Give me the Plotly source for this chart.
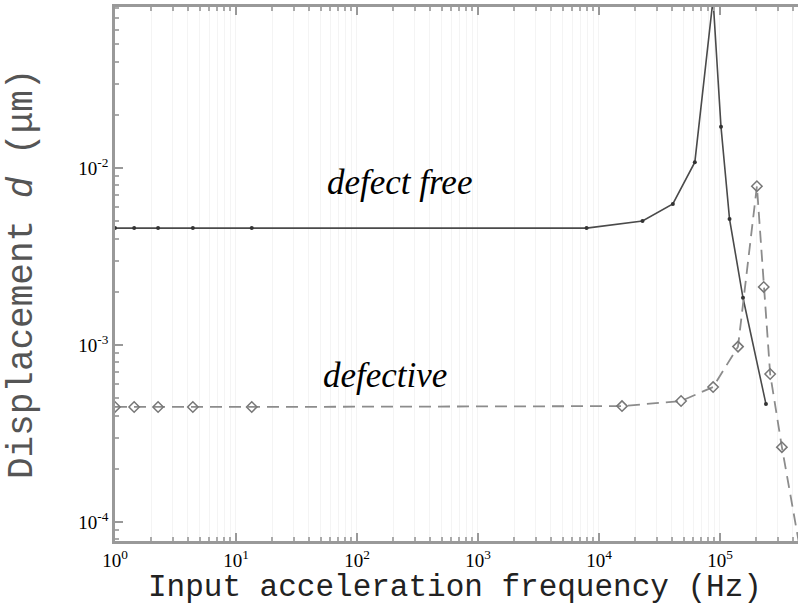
import numpy as np
import plotly.graph_objects as go

# ---- data ----
free_f = [1, 1.44, 2.27, 4.4, 13.5, 7900, 22900, 40800, 62000, 87700, 102000, 120000, 155000, 240000]
free_d = [4.58e-3, 4.58e-3, 4.58e-3, 4.58e-3, 4.58e-3, 4.58e-3, 5.02e-3, 6.27e-3, 1.08e-2, 9.0e-2,
          1.71e-2, 5.15e-3, 1.85e-3, 4.64e-4]

defc_f = [1, 1.44, 2.27, 4.4, 13.5, 15500, 47700, 87800, 141000, 202000, 230000, 260000, 325000, 458000]
defc_d = [4.47e-4, 4.47e-4, 4.47e-4, 4.47e-4, 4.47e-4, 4.52e-4, 4.83e-4, 5.79e-4, 9.8e-4, 7.9e-3,
          2.13e-3, 6.86e-4, 2.65e-4, 7.1e-5]

x_tick_vals = [1, 10, 100, 1000, 10000, 100000]
x_tick_text = ["10<sup>0</sup>", "10<sup>1</sup>", "10<sup>2</sup>", "10<sup>3</sup>", "10<sup>4</sup>", "10<sup>5</sup>"]
y_tick_vals = [1e-4, 1e-3, 1e-2]
y_tick_text = ["10<sup>-4</sup>", "10<sup>-3</sup>", "10<sup>-2</sup>"]

x_range = [0, 5.645]
y_range = [-4.107, -1.09]

fig = go.Figure()
fig.add_trace(go.Scatter(
    x=free_f, y=free_d, mode="lines+markers",
    line=dict(color="#4a4a4a", width=1.6),
    marker=dict(symbol="circle", size=4, color="#333"),
    showlegend=False))
fig.add_trace(go.Scatter(
    x=defc_f, y=defc_d, mode="lines+markers",
    line=dict(color="#8c8c8c", width=1.8, dash="12px,7px"),
    marker=dict(symbol="diamond-open", size=8, color="#777", line=dict(width=1.5)),
    showlegend=False))

axis_common = dict(
    type="log", showline=True, linecolor="#999", linewidth=2.5,
    ticks="inside", ticklen=8, tickcolor="#999", tickwidth=1.5,
    zeroline=False, showgrid=False,
    tickfont=dict(family="Liberation Serif", size=19, color="black"),
)
fig.update_xaxes(**axis_common, range=x_range, tickvals=x_tick_vals, ticktext=x_tick_text,
                 mirror="ticks",
                 minor=dict(dtick="D1", ticks="inside", ticklen=4, tickcolor="#aaa",
                            showgrid=True, gridcolor="#f4f4f4", gridwidth=1))
fig.update_yaxes(**axis_common, range=y_range, tickvals=y_tick_vals, ticktext=y_tick_text,
                 mirror=False,
                 minor=dict(dtick="D1", ticks="inside", ticklen=4, tickcolor="#aaa"))

fig.add_annotation(text="<i>defect free</i>", x=0.417, y=0.671, xref="paper", yref="paper",
                   showarrow=False, xanchor="center", yanchor="middle",
                   font=dict(family="Liberation Serif", size=35, color="black"))
fig.add_annotation(text="<i>defective</i>", x=0.395, y=0.309, xref="paper", yref="paper",
                   showarrow=False, xanchor="center", yanchor="middle",
                   font=dict(family="Liberation Serif", size=35, color="black"))
fig.add_annotation(text="Input acceleration frequency (Hz)", x=0.498, y=-0.0875, xref="paper", yref="paper",
                   showarrow=False, xanchor="center", yanchor="middle",
                   font=dict(family="Liberation Mono", size=31, color="#222"))
fig.add_annotation(text="Displacement <i>d</i> (μm)", x=-0.136, y=0.5, xref="paper", yref="paper",
                   showarrow=False, textangle=-90, xanchor="center", yanchor="middle",
                   font=dict(family="Liberation Mono", size=36, color="#555"))

fig.update_layout(width=798, height=607, margin=dict(l=115, r=0, t=7, b=66),
                  plot_bgcolor="white", paper_bgcolor="white")
fig.write_html("out.html")
